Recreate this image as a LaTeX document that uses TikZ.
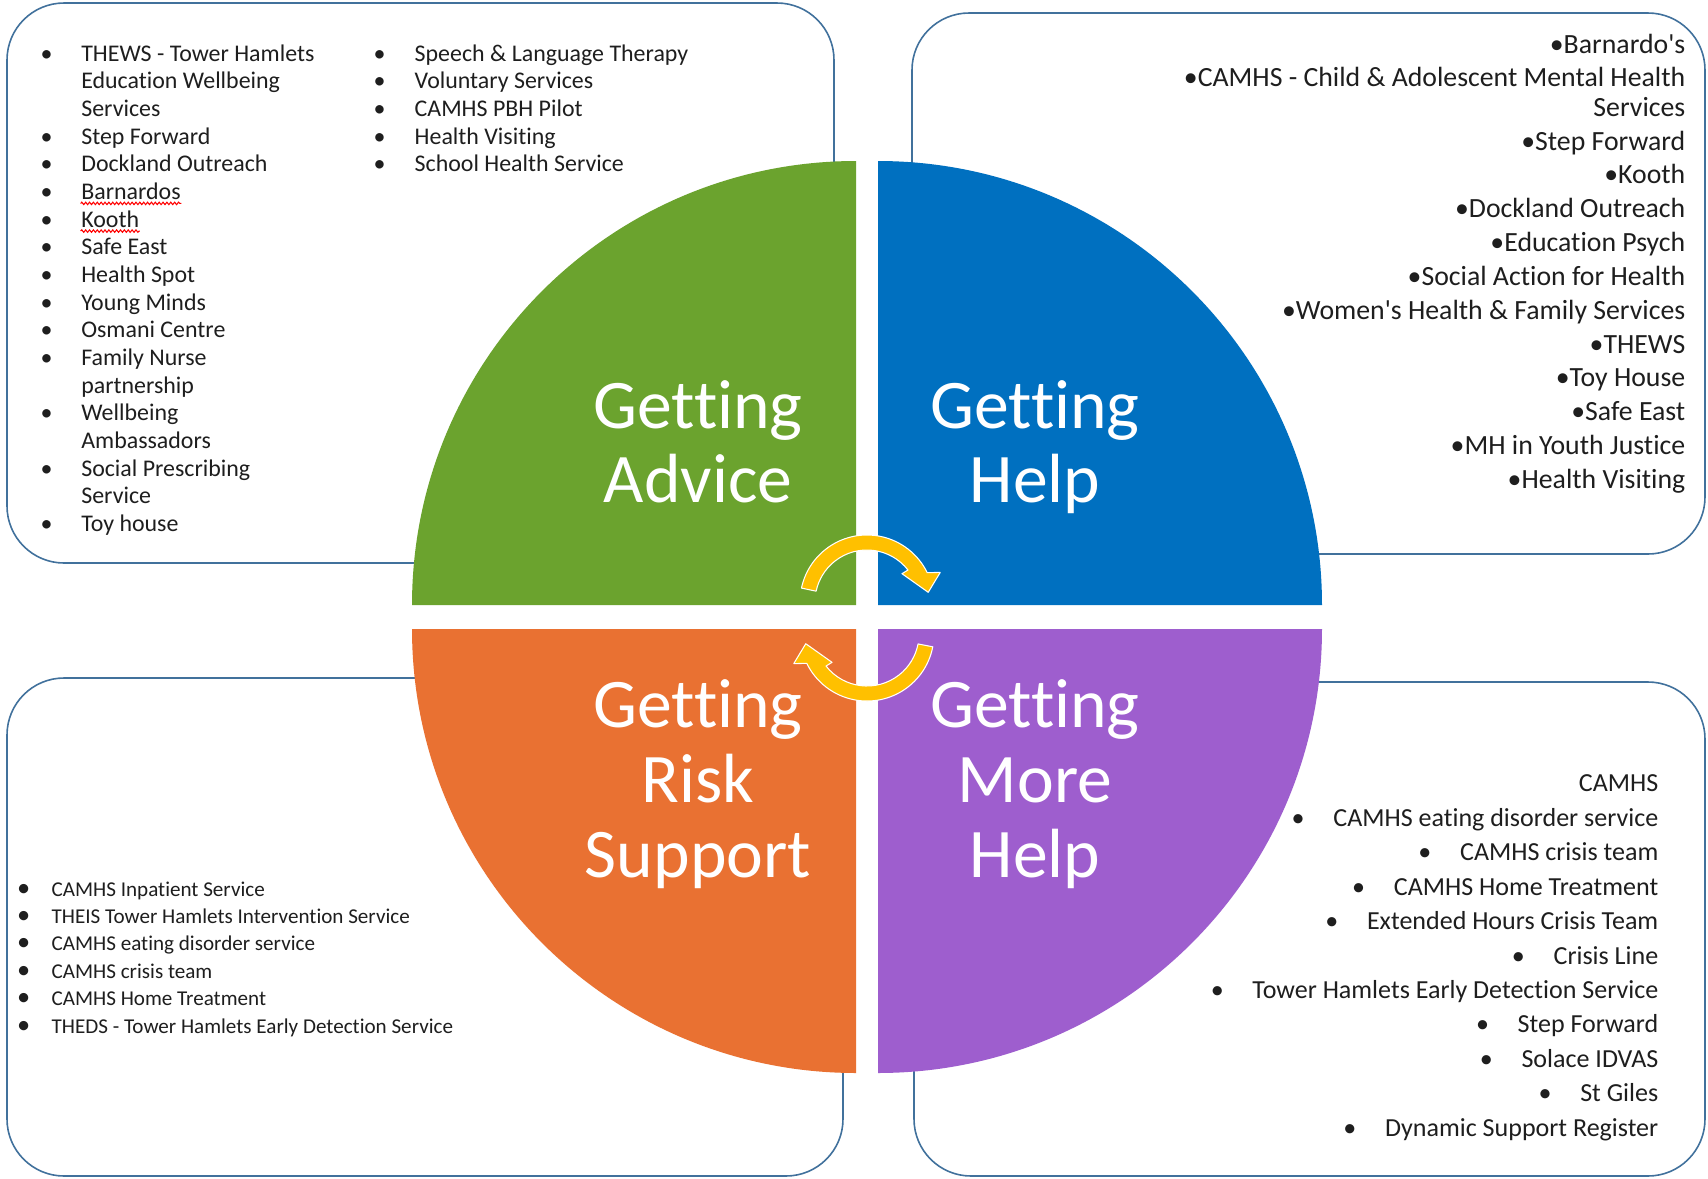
\documentclass[tikz,border=0pt]{standalone}
\usepackage{fontspec}
\setmainfont{Carlito}[Ligatures={NoCommon}]
\usetikzlibrary{decorations.pathmorphing}
\definecolor{qgreen}{HTML}{6BA32E}
\definecolor{qblue}{HTML}{0070C0}
\definecolor{qorange}{HTML}{E97132}
\definecolor{qpurple}{HTML}{9E5ECE}
\definecolor{qyellow}{HTML}{FFC000}
\definecolor{boxblue}{HTML}{41719C}
\definecolor{txt}{HTML}{1E1E1E}
\begin{document}
\begin{tikzpicture}[x=0.01cm,y=0.01cm,
  frame/.style={draw=boxblue, line width=0.45pt, fill=white, rounded corners=0.57cm},
  big/.style={font=\fontsize{19.8pt}{21pt}\selectfont, text=white, anchor=base, inner sep=0pt},
  tlist/.style={font=\fontsize{6.8pt}{8pt}\selectfont, text=txt, inner sep=0pt},
  trlist/.style={font=\fontsize{7.9pt}{9pt}\selectfont, text=txt, inner sep=0pt, anchor=base east},
  bllist/.style={font=\fontsize{6pt}{7pt}\selectfont, text=txt, inner sep=0pt},
  brlist/.style={font=\fontsize{7.4pt}{9pt}\selectfont, text=txt, inner sep=0pt},
  cyclearrow/.style={fill=qyellow, draw=white, line width=0.3pt, line join=round},
  spell/.style={draw=red, line width=0.3pt, decorate, decoration={snake, amplitude=0.35pt, segment length=1.1pt}}]
\path[fill=white, use as bounding box] (0,0) rectangle (1708,-1178);

% frames
\draw[frame] (7,-3) rectangle (834,-563);
\draw[frame] (912,-13) rectangle (1705,-554);
\draw[frame] (7,-678) rectangle (843,-1176);
\draw[frame] (914,-682) rectangle (1705,-1176);

% quadrants
\fill[qgreen] (856,-605) -- (412,-605) arc[start angle=180, end angle=90, radius=444] -- cycle;
\fill[qblue] (878,-605) -- (878,-161) arc[start angle=90, end angle=0, radius=444] -- cycle;
\fill[qorange] (856,-629) -- (412,-629) arc[start angle=180, end angle=270, radius=444] -- cycle;
\fill[qpurple] (878,-629) -- (1322,-629) arc[start angle=0, end angle=-90, radius=444] -- cycle;

% circular arrows
\begin{scope}[shift={(867,-602)}]
  \filldraw[cyclearrow] (168:67) arc[start angle=168, end angle=26, radius=67]
    -- (22:79) -- (9:62) -- (39:45) -- (38:52)
    arc[start angle=38, end angle=168, radius=52] -- cycle;
\end{scope}
\begin{scope}[shift={(867,-634)}]
  \filldraw[cyclearrow] (-11:67) arc[start angle=-11, end angle=-154, radius=67]
    -- (-158:79) -- (-171:62) -- (-141:45) -- (-142:52)
    arc[start angle=-142, end angle=-11, radius=52] -- cycle;
\end{scope}

% big labels
\node[big] (ga1) at (698,-428) {Getting};
\node[big] (ga2) at (698,-502) {Advice};
\node[big] (gh1) at (1035,-428) {Getting};
\node[big] (gh2) at (1035,-502) {Help};
\node[big] (gr1) at (698,-727.6) {Getting};
\node[big] (gr2) at (698,-802.7) {Risk};
\node[big] (gr3) at (698,-877.5) {Support};
\node[big] (gm1) at (1035,-727.6) {Getting};
\node[big] (gm2) at (1035,-802.7) {More};
\node[big] (gm3) at (1035,-877.5) {Help};

% top-left list, column 1
\foreach \t/\b [count=\i from 0] in {{THEWS - Tower Hamlets}/1, {Education Wellbeing}/0, {Services}/0,
  {Step Forward}/1, {Dockland Outreach}/1, {Barnardos}/1, {Kooth}/1, {Safe East}/1, {Health Spot}/1,
  {Young Minds}/1, {Osmani Centre}/1, {Family Nurse}/1, {partnership}/0, {Wellbeing}/1,
  {Ambassadors}/0, {Social Prescribing}/1, {Service}/0, {Toy house}/1}{
  \node[tlist, anchor=base west] (tlt\i) at (80.6,{-61-27.68*\i}) {\t};
  \ifnum\b=1 \node[tlist, anchor=base] (tlb\i) at (46.6,{-61-27.68*\i}) {•};\fi
}
\draw[spell] ([yshift=-0.04cm]tlt5.base west) -- ([yshift=-0.04cm]tlt5.base east);
\draw[spell] ([yshift=-0.04cm]tlt6.base west) -- ([yshift=-0.04cm]tlt6.base east);

% top-left list, column 2
\foreach \t [count=\i from 0] in {{Speech \& Language Therapy}, {Voluntary Services}, {CAMHS PBH Pilot},
  {Health Visiting}, {School Health Service}}{
  \node[tlist, anchor=base west] (tct\i) at (414,{-61-27.68*\i}) {\t};
  \node[tlist, anchor=base] (tcb\i) at (379.6,{-61-27.68*\i}) {•};
}

% top-right list
\foreach \y/\t [count=\i] in {53/{•Barnardo\textquotesingle s}, 86.5/{•CAMHS - Child \& Adolescent Mental Health},
  116/{Services}, 150/{•Step Forward}, 183.5/{•Kooth}, 217/{•Dockland Outreach},
  251/{•Education Psych}, 285/{•Social Action for Health}, 319/{•Women\textquotesingle s Health \& Family Services},
  353/{•THEWS}, 386.5/{•Toy House}, 420/{•Safe East}, 454/{•MH in Youth Justice}, 488.5/{•Health Visiting}}{
  \node[trlist] (trt\i) at (1686,-\y) {\t};
}

% bottom-left list
\foreach \t [count=\i from 0] in {{CAMHS Inpatient Service}, {THEIS Tower Hamlets Intervention Service},
  {CAMHS eating disorder service}, {CAMHS crisis team}, {CAMHS Home Treatment},
  {THEDS - Tower Hamlets Early Detection Service}}{
  \node[bllist, anchor=base west] (blt\i) at (51,{-896-27.4*\i}) {\t};
  \node[bllist, anchor=base, font=\fontsize{7.5pt}{8pt}\selectfont] (blb\i) at (23.6,{-896-27.4*\i}) {•};
}

% bottom-right list
\node[brlist, anchor=base east] (brt0) at (1659,-791.6) {CAMHS};
\foreach \t [count=\i] in {{CAMHS eating disorder service}, {CAMHS crisis team}, {CAMHS Home Treatment},
  {Extended Hours Crisis Team}, {Crisis Line}, {Tower Hamlets Early Detection Service}, {Step Forward},
  {Solace IDVAS}, {St Giles}, {Dynamic Support Register}}{
  \node[brlist, anchor=base east] (brt\i) at (1659,{-791.6-34.48*\i}) {\t};
  \node[brlist, anchor=base] (brb\i) at ([xshift=-0.345cm]brt\i.base west) {•};
}
\end{tikzpicture}
\end{document}
